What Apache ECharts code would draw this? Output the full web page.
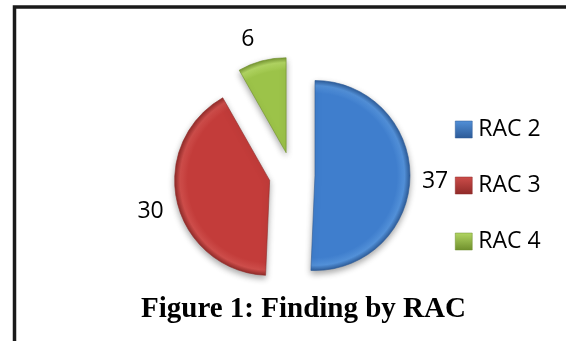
<!DOCTYPE html>
<html>
<head>
<meta charset="utf-8">
<script src="https://cdn.jsdelivr.net/npm/echarts@6/dist/echarts.min.js"></script>
<style>
  html, body { margin: 0; padding: 0; background: #fff; }
  #chart { width: 566px; height: 341px; }
</style>
</head>
<body>
<div id="chart"></div>
<script>
// Findings grouped by RAC level
const categories = ['RAC 2', 'RAC 3', 'RAC 4'];
const findings = [37, 30, 6];

// Base, rim highlight and dark edge tone for each slice
const palette = [
  { main: '#3f7ecd', light: '#5290d8', dark: '#2c5a97' },
  { main: '#c33c3a', light: '#cd4d4a', dark: '#8f2a28' },
  { main: '#9cc349', light: '#b2d663', dark: '#6f8f2c' }
];

// Small nudges for the value labels, to sit them the way the report has them
const labelNudge = [[-7, 4], [5, 6], [1, -8]];

// Radial bevel centred on the slice apex. The gradient is relative to the
// sector's bounding box, so the apex position inside that box is derived
// from the slice's start and end angles (clockwise from 12 o'clock).
function sectorGradient(startDeg, endDeg, c) {
  const pts = [[0, 0]];
  const toXY = d => [Math.sin(d * Math.PI / 180), -Math.cos(d * Math.PI / 180)];
  pts.push(toXY(startDeg), toXY(endDeg));
  for (let a = 0; a <= 360; a += 90) {
    if (a > startDeg && a < endDeg) pts.push(toXY(a));
  }
  const xs = pts.map(p => p[0]), ys = pts.map(p => p[1]);
  const minX = Math.min(...xs), maxX = Math.max(...xs);
  const minY = Math.min(...ys), maxY = Math.max(...ys);
  const w = maxX - minX, h = maxY - minY;
  return {
    type: 'radial',
    x: (0 - minX) / w,
    y: (0 - minY) / h,
    r: 1 / Math.min(w, h),
    colorStops: [
      { offset: 0, color: c.main },
      { offset: 0.86, color: c.main },
      { offset: 0.94, color: c.light },
      { offset: 1, color: c.dark }
    ]
  };
}

const total = findings.reduce((a, b) => a + b, 0);
let acc = 0;
const pieData = categories.map((name, i) => {
  const start = acc / total * 360;
  acc += findings[i];
  const end = acc / total * 360;
  return {
    name: name,
    value: findings[i],
    selected: true,
    itemStyle: {
      color: sectorGradient(start, end, palette[i]),
      borderColor: palette[i].dark,
      borderWidth: 0.6
    }
  };
});

const legendData = categories.map((name, i) => ({
  name: name,
  itemStyle: {
    color: {
      type: 'linear', x: 0, y: 0, x2: 0, y2: 1,
      colorStops: [
        { offset: 0, color: palette[i].light },
        { offset: 1, color: palette[i].dark }
      ]
    },
    borderColor: palette[i].dark,
    borderWidth: 0.5
  }
}));

const chart = echarts.init(document.getElementById('chart'), null, { renderer: 'canvas' });
chart.setOption({
  animation: false,
  backgroundColor: '#ffffff',
  color: palette.map(p => p.main),
  graphic: [{
    type: 'rect',
    shape: { x: 14.5, y: 7, width: 620, height: 400 },
    style: { fill: 'none', stroke: '#1a1a1a', lineWidth: 3.5 },
    silent: true
  }],
  title: {
    text: 'Figure 1: Finding by RAC',
    left: 136,
    top: 290,
    textStyle: {
      fontFamily: 'Liberation Serif',
      fontWeight: 'bold',
      fontSize: 29,
      color: '#000'
    }
  },
  legend: {
    orient: 'vertical',
    left: 450,
    top: 113,
    itemWidth: 17,
    itemHeight: 17,
    itemGap: 33,
    icon: 'rect',
    data: legendData,
    selectedMode: false,
    textStyle: { fontFamily: 'Open Sans', fontSize: 23, color: '#000', padding: [0, 0, 0, 1] }
  },
  series: [{
    type: 'pie',
    center: [292, 175],
    radius: 95,
    startAngle: 90,
    clockwise: true,
    selectedMode: 'multiple',
    selectedOffset: 23,
    avoidLabelOverlap: false,
    itemStyle: {
      shadowBlur: 6,
      shadowOffsetY: 3,
      shadowColor: 'rgba(0,0,0,0.35)'
    },
    label: {
      show: true,
      position: 'outside',
      formatter: '{c}',
      fontFamily: 'Open Sans',
      fontSize: 23,
      color: '#000',
      distanceToLabelLine: 5
    },
    labelLine: { show: false, length: 14, length2: 0 },
    labelLayout: function (params) {
      const n = labelNudge[params.dataIndex];
      return { dx: n[0], dy: n[1] };
    },
    emphasis: { disabled: true },
    data: pieData
  }]
});
</script>
</body>
</html>
